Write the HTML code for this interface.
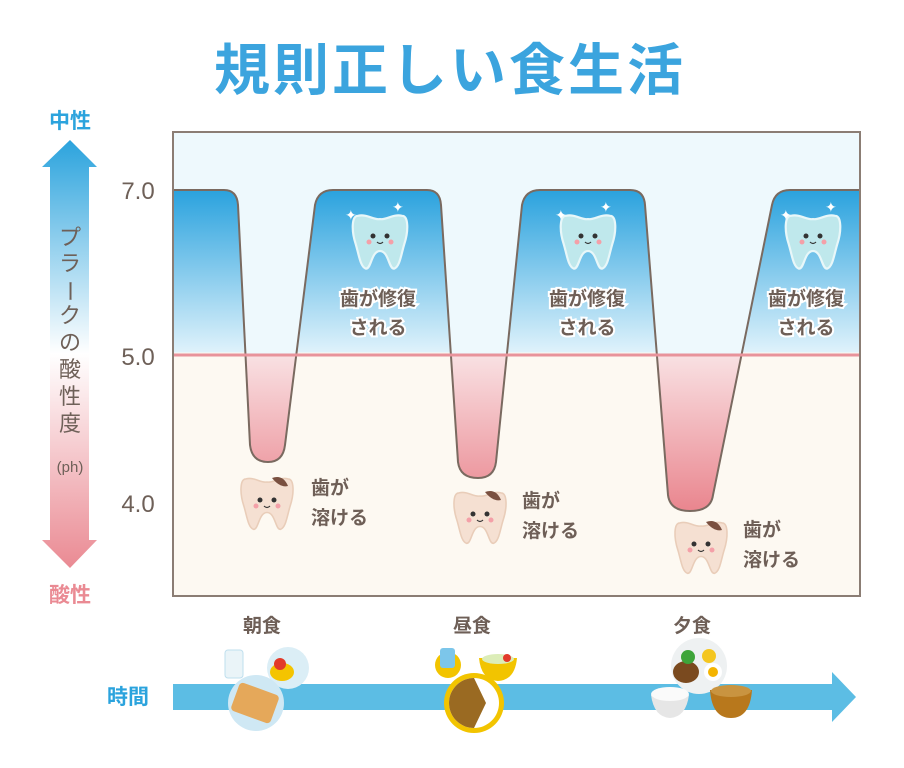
<!DOCTYPE html>
<html><head><meta charset="utf-8"><style>
html,body{margin:0;padding:0;background:#fff;width:904px;height:768px;overflow:hidden}
svg text{font-family:"Liberation Sans","Noto Sans CJK JP",sans-serif}
</style></head><body>
<svg width="904" height="768" viewBox="0 0 904 768" xmlns="http://www.w3.org/2000/svg">
<defs>
<linearGradient id="ax" x1="0" y1="140" x2="0" y2="568" gradientUnits="userSpaceOnUse">
<stop offset="0" stop-color="#2ba3dd"/><stop offset="0.5" stop-color="#ffffff"/><stop offset="1" stop-color="#ea8a93"/></linearGradient>
<linearGradient id="under" x1="0" y1="190" x2="0" y2="596" gradientUnits="userSpaceOnUse">
<stop offset="0" stop-color="#2aa2de"/><stop offset="0.40" stop-color="#dff2fb"/><stop offset="0.40" stop-color="#fdf9f2"/><stop offset="1" stop-color="#fdf9f2"/></linearGradient>
<linearGradient id="pk" x1="0" y1="355" x2="0" y2="515" gradientUnits="userSpaceOnUse">
<stop offset="0" stop-color="#f9e1e3"/><stop offset="1" stop-color="#e9838c"/></linearGradient>
<g id="tooth">
<path d="M-20,-22 C-26,-22 -26,-8 -22,4 C-19,14 -18,24 -13,26 C-8,27 -8,10 0,10 C8,10 8,27 13,26 C18,24 19,14 22,4 C26,-8 26,-22 20,-22 C12,-24 6,-18 0,-19 C-6,-18 -12,-24 -20,-22Z"/>
</g>
<g id="face"><circle cx="-7" cy="-2" r="2.5" fill="#333"/><circle cx="7" cy="-2" r="2.5" fill="#333"/><circle cx="-11" cy="4" r="2.5" fill="#f4a0a8"/><circle cx="11" cy="4" r="2.5" fill="#f4a0a8"/><path d="M-3,4 Q0,7 3,4" fill="none" stroke="#333" stroke-width="1.2"/></g>
</defs>
<text x="450" y="90" text-anchor="middle" font-size="56" font-weight="bold" fill="#3ba4de" letter-spacing="3">規則正しい食生活</text>
<rect x="173" y="132" width="687" height="223" fill="#eef9fd"/>
<rect x="173" y="355" width="687" height="241" fill="#fdf9f2"/>
<rect x="173" y="355" width="687" height="170" fill="url(#pk)"/>
<path d="M173,190 L224,190 Q237,190 238,205 L250,445 Q252,462 268,462 Q283,462 285,445 L315,205 Q318,190 333,190 L427,190 Q440,190 441,205 L458,462 Q460,478 478,478 Q494,478 496,462 L522,205 Q525,190 540,190 L630,190 Q644,190 645,205 L668,495 Q670,511 690,511 Q711,511 713,495 L772,205 Q775,190 790,190 L860,190 L860,596 L173,596Z" fill="url(#under)"/>
<path d="M173,190 L224,190 Q237,190 238,205 L250,445 Q252,462 268,462 Q283,462 285,445 L315,205 Q318,190 333,190 L427,190 Q440,190 441,205 L458,462 Q460,478 478,478 Q494,478 496,462 L522,205 Q525,190 540,190 L630,190 Q644,190 645,205 L668,495 Q670,511 690,511 Q711,511 713,495 L772,205 Q775,190 790,190 L860,190" fill="none" stroke="#7a6a60" stroke-width="2"/>
<line x1="173" y1="355" x2="860" y2="355" stroke="#e8939b" stroke-width="3"/>
<rect x="173" y="132" width="687" height="464" fill="none" stroke="#8b7d74" stroke-width="2"/>
<g font-size="24" fill="#6e6058" text-anchor="middle">
<text x="138" y="199">7.0</text><text x="138" y="365">5.0</text><text x="138" y="512">4.0</text></g>
<path d="M70,140 L97,167 L89,167 L89,540 L97,540 L70,568 L42,540 L50,540 L50,167 L42,167Z" fill="url(#ax)"/>
<text x="70" y="128" text-anchor="middle" font-size="21" font-weight="bold" fill="#2ba3dd">中性</text>
<text x="70" y="602" text-anchor="middle" font-size="21" font-weight="bold" fill="#ea8a93">酸性</text>
<g font-size="22" fill="#6e6058" text-anchor="middle">
<text x="70" y="245">プ</text><text x="70" y="271">ラ</text><text x="70" y="299" transform="rotate(90 70 291)">ー</text><text x="70" y="323">ク</text><text x="70" y="350">の</text><text x="70" y="377">酸</text><text x="70" y="404">性</text><text x="70" y="431">度</text>
<text x="70" y="472" font-size="15">(ph)</text></g>
<g fill="#bfe8ec" stroke="#e8f7f9" stroke-width="2">
<use href="#tooth" transform="translate(380,240) scale(1.1)"/><use href="#tooth" transform="translate(588,240) scale(1.1)"/><use href="#tooth" transform="translate(813,240) scale(1.1)"/></g>
<use href="#face" x="380" y="238"/><use href="#face" x="588" y="238"/><use href="#face" x="813" y="238"/>
<g fill="#fff" font-size="14">
<text x="345" y="220">✦</text><text x="392" y="212">✦</text><text x="555" y="220">✦</text><text x="600" y="212">✦</text><text x="780" y="220">✦</text><text x="825" y="212">✦</text></g>
<g font-size="19" font-weight="bold" fill="#6e5f57" stroke="#fff" stroke-width="4" paint-order="stroke" text-anchor="middle">
<text x="378" y="305">歯が修復</text><text x="378" y="334">される</text>
<text x="587" y="305">歯が修復</text><text x="587" y="334">される</text>
<text x="806" y="305">歯が修復</text><text x="806" y="334">される</text></g>
<g fill="#f5e0d2" stroke="#e9cdb9" stroke-width="1.5">
<use href="#tooth" transform="translate(267,502) scale(1.05)"/><use href="#tooth" transform="translate(480,516) scale(1.05)"/><use href="#tooth" transform="translate(701,546) scale(1.05)"/></g>
<use href="#face" x="267" y="502"/><use href="#face" x="480" y="516"/><use href="#face" x="701" y="546"/>
<g fill="#7a5040"><path d="M272,478 Q283,474 288,486 Q280,488 272,478Z"/><path d="M485,492 Q496,488 501,500 Q493,502 485,492Z"/><path d="M706,522 Q717,518 722,530 Q714,532 706,522Z"/></g>
<g font-size="19" fill="#6e5f57" font-weight="bold">
<text x="311" y="494">歯が</text><text x="311" y="524">溶ける</text>
<text x="522" y="507">歯が</text><text x="522" y="537">溶ける</text>
<text x="743" y="536">歯が</text><text x="743" y="566">溶ける</text></g>
<g font-size="19" fill="#6e5f57" text-anchor="middle" font-weight="bold">
<text x="262" y="632">朝食</text><text x="472" y="632">昼食</text><text x="692" y="632">夕食</text></g>
<text x="128" y="704" text-anchor="middle" font-size="21" font-weight="bold" fill="#2ba3dd">時間</text>
<path d="M173,684 L832,684 L832,672 L856,697 L832,722 L832,710 L173,710Z" fill="#5cbde4"/>
<rect x="225" y="650" width="18" height="28" rx="3" fill="#eaf4f8" stroke="#bfdfee"/>
<circle cx="288" cy="668" r="21" fill="#dbeef6"/><ellipse cx="282" cy="672" rx="12" ry="9" fill="#f4c400"/><circle cx="280" cy="664" r="6" fill="#e23a2a"/>
<circle cx="256" cy="703" r="28" fill="#cfe8f4"/><rect x="234" y="688" width="42" height="30" rx="4" fill="#e5a85a" transform="rotate(20 255 703)"/>
<circle cx="448" cy="665" r="13" fill="#f2c400"/><rect x="440" y="648" width="15" height="20" rx="3" fill="#7cc6ea"/>
<path d="M479,658 L517,658 Q515,680 498,681 Q481,680 479,658Z" fill="#f2c400"/><ellipse cx="498" cy="659" rx="16" ry="5" fill="#dcedb8"/><circle cx="507" cy="658" r="4" fill="#e23a2a"/>
<circle cx="474" cy="703" r="30" fill="#f2c400"/><circle cx="474" cy="703" r="25" fill="#fff"/><path d="M474,678 A25,25 0 0 0 474,728 L486,703Z" fill="#9a6a22"/>
<circle cx="699" cy="666" r="28" fill="#eef1f2"/><ellipse cx="686" cy="672" rx="13" ry="11" fill="#7a4a1f"/><circle cx="713" cy="672" r="9" fill="#fff"/><circle cx="713" cy="672" r="5" fill="#f4b400"/><circle cx="688" cy="657" r="7" fill="#3ea53a"/><circle cx="709" cy="656" r="7" fill="#f4c620"/>
<path d="M651,695 L689,695 Q686,717 670,718 Q654,717 651,695Z" fill="#e6e6e6"/><ellipse cx="670" cy="694" rx="19" ry="7" fill="#fafafa"/>
<path d="M710,690 L752,690 Q750,718 731,718 Q712,718 710,690Z" fill="#b8781c"/><ellipse cx="731" cy="691" rx="20" ry="6" fill="#c99440"/>
</svg>
</body></html>
